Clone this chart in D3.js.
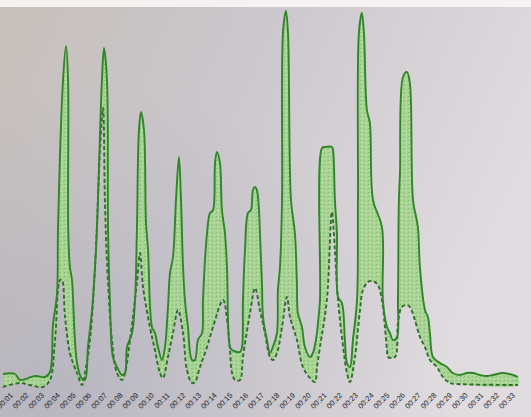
<!DOCTYPE html>
<html>
<head>
<meta charset="utf-8">
<script src="https://cdn.jsdelivr.net/npm/d3@7"></script>
<style>
  html, body { margin: 0; padding: 0; background: #ffffff; }
  svg { display: block; }
  .tick text { font-family: "Liberation Sans", Arial, sans-serif; font-size: 7.5px; fill: #222228; }
</style>
</head>
<body>
<svg id="chart" width="531" height="417"></svg>
<script>
// Minute marks along the time axis
const tickValues = d3.range(1, 34);
const tickLabels = tickValues.map(m => "00:" + String(m).padStart(2, "0"));

// Upper envelope (solid line): time in minutes, level
const upperTime = [0.55,1.32,1.64,2.59,3.23,3.55,3.74,4.00,4.06,4.38,4.57,4.70,4.71,4.82,4.95,5.27,5.59,5.78,5.97,6.23,
  6.42,6.54,6.86,6.99,7.18,7.25,7.37,7.56,7.82,8.14,8.33,8.46,8.78,8.97,9.09,9.22,9.35,9.54,9.67,9.80,
  10.05,10.24,10.43,10.69,10.88,11.07,11.20,11.39,11.58,11.77,11.90,12.03,12.15,12.34,12.60,12.79,12.98,13.24,13.30,13.56,
  13.75,13.94,14.07,14.19,14.38,14.51,14.70,14.83,15.02,15.15,15.66,15.79,15.85,15.98,16.17,16.36,16.49,16.62,16.74,16.87,
  16.93,17.06,17.13,17.38,17.57,17.76,18.02,18.08,18.21,18.34,18.40,18.59,18.72,18.91,19.16,19.29,19.35,19.61,19.80,20.12,
  20.31,20.57,20.63,20.76,20.89,21.08,21.52,21.59,21.71,21.84,21.91,22.16,22.35,22.48,22.67,22.86,23.12,23.18,23.24,23.43,
  23.56,23.75,23.94,24.14,24.71,24.77,25.03,25.22,25.41,25.67,25.73,25.79,25.86,26.05,26.30,26.49,26.69,27.00,27.13,27.45,
  27.64,27.77,27.96,28.41,28.85,29.23,29.68,30.13,30.51,30.96,31.40,31.78,32.42,33.06,33.38];
const upperValue = [3.5,3.5,2,3,2.75,4,15.75,23.75,39.5,77,85.5,77,39.5,30.25,27,6.25,2.25,2,10.25,19.5,
  30.25,39.5,77,85,77,39.5,22,7.75,5.25,3.25,3.75,10.25,13.75,22,39.5,64.5,69,64.5,41.25,34.5,
  15.25,13.75,10.25,7,10.25,20.25,28.75,32.75,47,57.75,47,30.25,22,15.25,7,7,12,13.75,22,38.75,
  43.75,44.5,56.25,59,56.25,44.5,38.75,30.25,10.25,9.5,9,10.25,22,34.5,43.75,44.5,49.5,50.25,49.5,44.5,
  38.75,26.25,17.75,12,8.75,10.25,13.75,24.5,30.25,47,88.75,94.25,88.75,47,38.75,26.25,18.75,15.25,10.25,7.75,
  8.75,13.75,16.25,22,60,60.25,60.25,59.5,47,38.75,22.75,21.25,12,6.25,5.25,12,22,47,88.75,93.75,
  88.75,69.5,66.25,47,40.25,22,15.25,13.75,12,12.75,22,47,53.75,77.75,79,76.25,47,40.25,30.25,19.5,
  17.75,13.75,7.75,6.25,5.25,3.75,3.25,3.75,3.75,3.25,3,3.25,3.75,3.25,2.75];

// Lower envelope (dashed line): time in minutes, level
const lowerTime = [0.55,1.64,2.27,3.10,3.55,3.87,4.19,4.31,4.51,4.82,5.27,5.59,5.78,6.10,6.42,6.74,6.93,7.05,7.18,7.50,
  7.82,8.14,8.33,8.65,9.09,9.29,9.48,9.92,10.24,10.56,10.75,11.07,11.39,11.71,12.03,12.28,12.60,12.79,13.11,13.56,
  13.94,14.58,14.89,15.02,15.15,15.34,15.66,15.85,16.30,16.62,16.93,17.25,17.57,17.76,18.02,18.34,18.65,18.85,19.29,19.67,
  20.12,20.44,20.57,20.76,21.20,21.52,21.71,21.91,22.22,22.48,22.67,22.99,23.31,23.50,23.82,24.14,24.45,24.71,24.90,25.03,
  25.09,25.54,25.73,25.98,26.30,26.49,26.81,27.13,27.45,27.77,28.21,28.60,29.04,29.49,33.38];
const lowerValue = [0.25,1.25,0.75,0.25,2,12,27,27,17.75,8.75,3.75,0.75,3.75,12,30.25,59.5,70,47,32,12,
  3.75,2,3.75,12,26.25,33.75,25.25,15.25,9.5,3.75,2.5,7.75,13.75,19.5,13.75,4.5,1.25,1.5,5.25,10.25,
  15.25,22,15.25,9.5,3.75,2,2,7.75,18.75,25,19.5,13.75,7.75,7,8.75,15.25,22.75,17.75,12,5.25,
  2.5,1.5,5.25,10.25,22,44,34.5,22,10.75,3.75,1.5,7.75,19.5,24.5,26.5,26.75,25.75,22,15.25,9.5,
  7.75,7.75,16.25,20.25,20.75,20.25,17,12.75,10.25,7,5.25,2.75,1.25,1,0.75];

const upper = upperTime.map((t, i) => ({ t, v: upperValue[i] }));
const lower = lowerTime.map((t, i) => ({ t, v: lowerValue[i] }));

const svg = d3.select("#chart");
const W = 531, H = 417;

const x = d3.scaleLinear().domain([1, 33]).range([10, 512]);
const y = d3.scaleLinear().domain([0, 95]).range([388, 8]);

// Paper background
const defs = svg.append("defs");
const paper = defs.append("linearGradient").attr("id", "paper")
  .attr("x1", "0").attr("y1", "0").attr("x2", "1").attr("y2", "0.35");
paper.append("stop").attr("offset", "0").attr("stop-color", "#c6bfba");
paper.append("stop").attr("offset", "0.45").attr("stop-color", "#cbc7cc");
paper.append("stop").attr("offset", "1").attr("stop-color", "#dfdbde");

const shade = defs.append("radialGradient").attr("id", "shade")
  .attr("cx", "0.1").attr("cy", "0.95").attr("r", "0.75");
shade.append("stop").attr("offset", "0").attr("stop-color", "#a6a6b6").attr("stop-opacity", 0.5);
shade.append("stop").attr("offset", "1").attr("stop-color", "#a6a6b6").attr("stop-opacity", 0);

// Speckled green band fill
const pat = defs.append("pattern").attr("id", "speckle")
  .attr("patternUnits", "userSpaceOnUse").attr("width", 4).attr("height", 4);
pat.append("rect").attr("width", 4).attr("height", 4).attr("fill", "#a8d592");
pat.append("rect").attr("x", 0).attr("y", 0).attr("width", 1).attr("height", 1).attr("fill", "#7db86b");
pat.append("rect").attr("x", 2).attr("y", 2).attr("width", 1).attr("height", 1).attr("fill", "#c2e3b0");
pat.append("rect").attr("x", 3).attr("y", 1).attr("width", 1).attr("height", 1).attr("fill", "#8cc47a");

svg.append("rect").attr("width", W).attr("height", H).attr("fill", "url(#paper)");
svg.append("rect").attr("width", W).attr("height", H).attr("fill", "url(#shade)");
svg.append("rect").attr("width", W).attr("height", 7).attr("fill", "#f4f3f2");

const line = d3.line().x(d => x(d.t)).y(d => y(d.v)).curve(d3.curveCatmullRom.alpha(0.5));

// Band between the two envelopes
const band = upper.concat(lower.slice().reverse());
svg.append("path")
  .attr("d", line(band) + "Z")
  .attr("fill", "url(#speckle)")
  .attr("opacity", 0.95);

svg.append("path")
  .attr("d", line(lower))
  .attr("fill", "none")
  .attr("stroke", "#2f6e2c")
  .attr("stroke-width", 1.9)
  .attr("stroke-dasharray", "4,2.5")
  .attr("stroke-linejoin", "round");

svg.append("path")
  .attr("d", line(upper))
  .attr("fill", "none")
  .attr("stroke", "#2f852a")
  .attr("stroke-width", 1.9)
  .attr("stroke-linejoin", "round");

// Time axis labels
const axis = d3.axisBottom(x)
  .tickValues(tickValues)
  .tickFormat((d, i) => tickLabels[i])
  .tickSize(0);

const gx = svg.append("g").attr("transform", "translate(0,388)").call(axis);
gx.select(".domain").remove();
gx.selectAll(".tick text")
  .attr("x", 0).attr("y", 0).attr("dy", "0.35em")
  .attr("text-anchor", "end")
  .attr("transform", "translate(1,6) rotate(-45)");
</script>
</body>
</html>
